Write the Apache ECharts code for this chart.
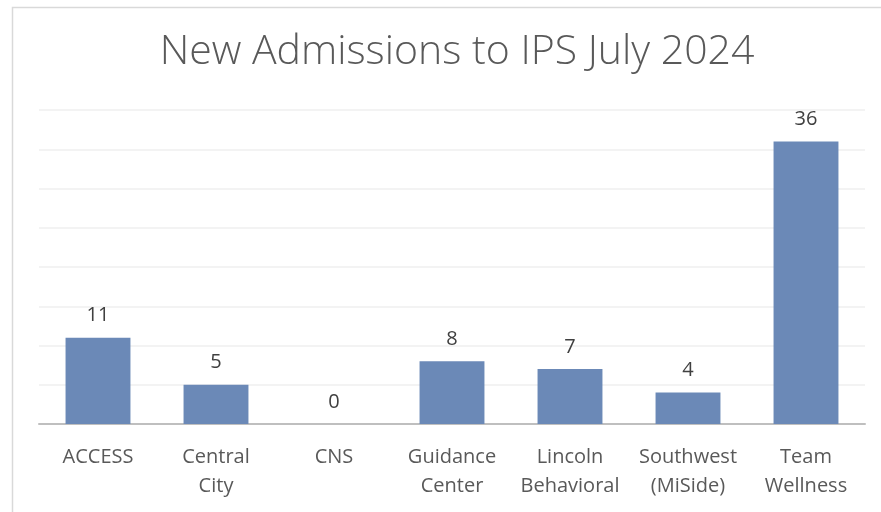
<!DOCTYPE html>
<html><head><meta charset="utf-8">
<script src="https://cdn.jsdelivr.net/npm/echarts@6/dist/echarts.min.js"></script>
<style>html,body{margin:0;padding:0;background:#fff}#c{width:881px;height:512px}</style>
</head><body><div id="c"></div>
<script>
const categories = ['ACCESS', 'Central\nCity', 'CNS', 'Guidance\nCenter', 'Lincoln\nBehavioral', 'Southwest\n(MiSide)', 'Team\nWellness'];
const admissions = [11, 5, 0, 8, 7, 4, 36];
const titleText = 'New Admissions to IPS July 2024';
const font = '"Open Sans", "Noto Sans", sans-serif';
const chart = echarts.init(document.getElementById('c'));
chart.setOption({
  animation: false,
  backgroundColor: '#fff',
  graphic: [{
    type: 'rect', left: 10, top: 5, shape: { width: 880, height: 520 },
    style: { fill: 'none', stroke: '#d9d9d9', lineWidth: 1.5 }, silent: true
  }],
  title: {
    text: titleText, left: 452, top: 27, textAlign: 'center',
    textStyle: { fontFamily: font, fontWeight: 300, fontSize: 41, color: '#595959' }
  },
  grid: { left: 39, right: 16, top: 110, bottom: 88, containLabel: false },
  xAxis: {
    type: 'category', data: categories,
    axisLine: { lineStyle: { color: '#bfbfbf', width: 2 } },
    axisTick: { show: false },
    axisLabel: { fontFamily: font, fontSize: 20, color: '#595959', lineHeight: 29, margin: 19, interval: 0 }
  },
  yAxis: {
    type: 'value', min: 0, max: 40, interval: 5,
    axisLabel: { show: false }, axisLine: { show: false }, axisTick: { show: false },
    splitLine: { lineStyle: { color: '#efefef', width: 1.5 } }
  },
  series: [{
    type: 'bar', data: admissions, barWidth: '55%',
    itemStyle: { color: '#6b89b7' },
    label: { show: true, position: 'top', distance: 12, fontFamily: font, fontSize: 20, color: '#404040' }
  }]
});
</script></body></html>
